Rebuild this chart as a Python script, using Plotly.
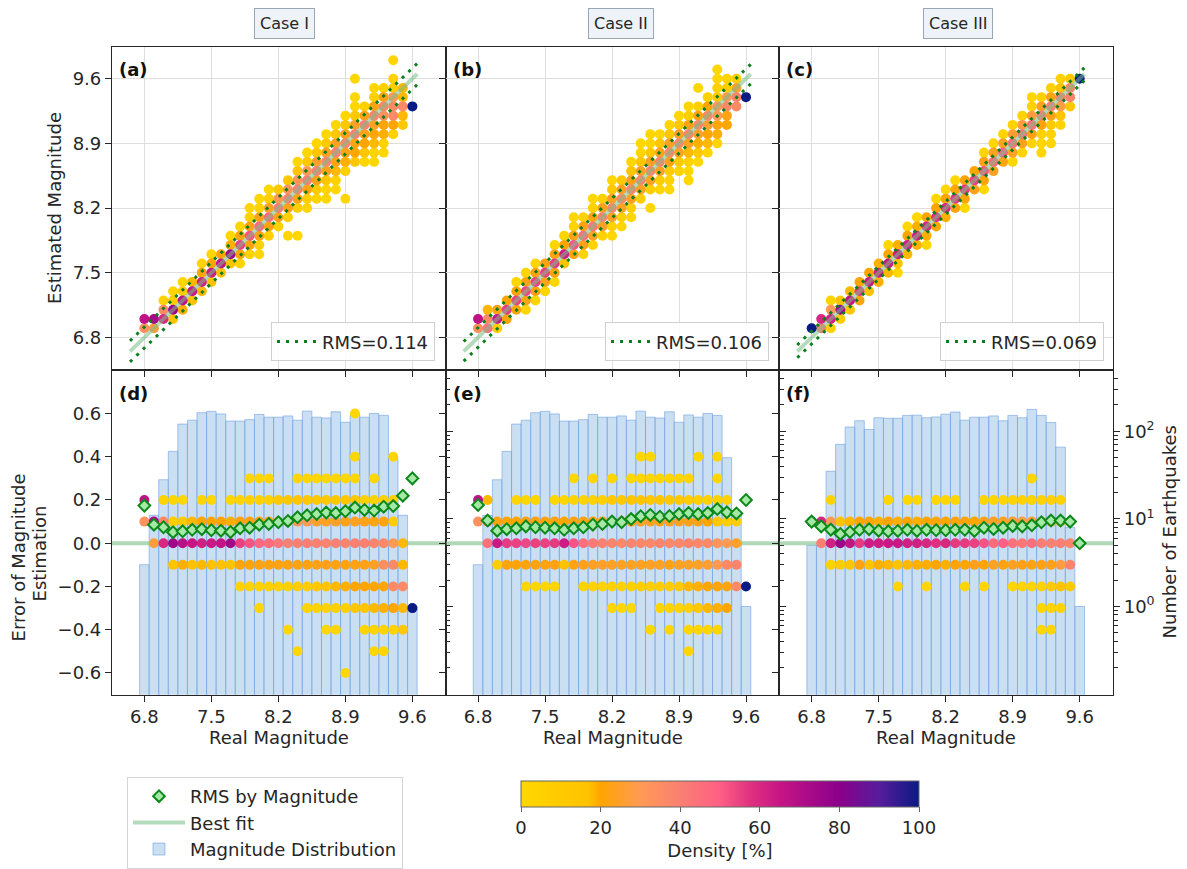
import plotly.graph_objects as go

# ---------------- data ----------------
MAGNITUDES = [6.8, 6.9, 7.0, 7.1, 7.2, 7.3, 7.4, 7.5, 7.6, 7.7, 7.8, 7.9, 8.0, 8.1, 8.2,
              8.3, 8.4, 8.5, 8.6, 8.7, 8.8, 8.9, 9.0, 9.1, 9.2, 9.3, 9.4, 9.5, 9.6]
MAG_TICKS = [6.8, 7.5, 8.2, 8.9, 9.6]
ERR_TICKS = [-0.6, -0.4, -0.2, 0.0, 0.2, 0.4, 0.6]
ERR_TICK_TEXT = ["\u22120.6", "\u22120.4", "\u22120.2", "0.0", "0.2", "0.4", "0.6"]
CASE_NAMES = ["Case I", "Case II", "Case III"]
PANEL_TOP = ["(a)", "(b)", "(c)"]
PANEL_BOT = ["(d)", "(e)", "(f)"]
RMS_TOTAL = [0.114, 0.106, 0.069]
BEST_FIT_SPAN = [6.65, 9.65]

COUNTS_CASE_I = [3, 11, 28, 59, 121, 134, 163, 169, 158, 131, 131, 136, 156, 145, 145,
                 150, 134, 170, 145, 142, 167, 127, 154, 145, 160, 152, 50, 11, 1]
COUNTS_CASE_II = [3, 11, 28, 59, 121, 134, 163, 169, 158, 131, 131, 136, 156, 145, 145,
                  150, 134, 170, 145, 142, 167, 127, 154, 145, 160, 152, 50, 11, 1]
COUNTS_CASE_III = [5, 5, 35, 71, 112, 132, 105, 143, 141, 141, 152, 153, 143, 146, 157,
                   166, 134, 145, 145, 150, 132, 152, 143, 178, 152, 126, 66, 8, 1]

RMS_MAG_CASE_I = [0.174, 0.086, 0.074, 0.051, 0.055, 0.062, 0.065, 0.060, 0.058, 0.052,
                  0.069, 0.072, 0.086, 0.089, 0.097, 0.103, 0.120, 0.129, 0.135, 0.142,
                  0.140, 0.148, 0.165, 0.154, 0.151, 0.169, 0.172, 0.220, 0.300]
RMS_MAG_CASE_II = [0.177, 0.105, 0.058, 0.065, 0.069, 0.078, 0.074, 0.072, 0.069, 0.062,
                   0.069, 0.074, 0.086, 0.089, 0.100, 0.097, 0.112, 0.125, 0.131, 0.123,
                   0.126, 0.135, 0.140, 0.135, 0.140, 0.158, 0.143, 0.138, 0.200]
RMS_MAG_CASE_III = [0.100, 0.078, 0.063, 0.043, 0.052, 0.062, 0.065, 0.058, 0.055, 0.057,
                    0.062, 0.057, 0.062, 0.060, 0.060, 0.062, 0.062, 0.057, 0.072, 0.066,
                    0.072, 0.080, 0.078, 0.083, 0.097, 0.105, 0.105, 0.100, 0.000]

# density [%] of (real magnitude, error) cells : error -> [(magnitude, density), ...]
DENSITY_CASE_I = {
    0.6: [(9.0, 1)],
    0.4: [(9.0, 1), (9.4, 2)],
    0.3: [(7.9, 1), (8.0, 1), (8.1, 1), (8.4, 1), (8.5, 1), (8.6, 1), (8.7, 1), (8.8, 1),
          (8.9, 1), (9.0, 1), (9.2, 1)],
    0.2: [(6.8, 67), (7.0, 4), (7.1, 2), (7.2, 1), (7.4, 2), (7.5, 1), (7.7, 1), (7.8, 2),
          (7.9, 3), (8.0, 4), (8.1, 6), (8.2, 12), (8.3, 13), (8.4, 14), (8.5, 12), (8.6, 13),
          (8.7, 12), (8.8, 12), (8.9, 13), (9.0, 12), (9.1, 6), (9.2, 5), (9.3, 5), (9.4, 4)],
    0.1: [(6.8, 33), (6.9, 73), (7.0, 36), (7.1, 8), (7.2, 10), (7.3, 18), (7.4, 20), (7.5, 20),
          (7.6, 20), (7.7, 19), (7.8, 22), (7.9, 22), (8.0, 23), (8.1, 24), (8.2, 30), (8.3, 32),
          (8.4, 31), (8.5, 30), (8.6, 25), (8.7, 24), (8.8, 24), (8.9, 23), (9.0, 24), (9.1, 23),
          (9.2, 22), (9.3, 22), (9.4, 8)],
    0.0: [(6.9, 27), (7.0, 60), (7.1, 75), (7.2, 68), (7.3, 65), (7.4, 62), (7.5, 64), (7.6, 66),
          (7.7, 74), (7.8, 55), (7.9, 52), (8.0, 48), (8.1, 46), (8.2, 42), (8.3, 40), (8.4, 40),
          (8.5, 41), (8.6, 40), (8.7, 39), (8.8, 40), (8.9, 38), (9.0, 40), (9.1, 40), (9.2, 38),
          (9.3, 37), (9.4, 30), (9.5, 18)],
    -0.1: [(7.1, 15), (7.2, 19), (7.3, 17), (7.4, 18), (7.5, 17), (7.6, 17), (7.7, 16), (7.8, 21),
           (7.9, 21), (8.0, 22), (8.1, 22), (8.2, 22), (8.3, 22), (8.4, 22), (8.5, 22), (8.6, 23),
           (8.7, 23), (8.8, 22), (8.9, 22), (9.0, 22), (9.1, 23), (9.2, 24), (9.3, 34), (9.4, 36),
           (9.5, 18)],
    -0.2: [(7.8, 3), (7.9, 4), (8.0, 5), (8.1, 6), (8.2, 5), (8.3, 6), (8.4, 7), (8.5, 8),
           (8.6, 12), (8.7, 14), (8.8, 18), (8.9, 19), (9.0, 20), (9.1, 20), (9.2, 20), (9.3, 21),
           (9.4, 36), (9.5, 36)],
    -0.3: [(8.0, 1), (8.5, 2), (8.6, 3), (8.7, 4), (8.8, 5), (8.9, 6), (9.0, 13), (9.1, 14),
           (9.2, 18), (9.3, 19), (9.4, 20), (9.5, 18), (9.6, 100)],
    -0.4: [(8.3, 1), (8.7, 1), (8.8, 1), (9.1, 2), (9.2, 3), (9.3, 3), (9.4, 4), (9.5, 12)],
    -0.5: [(8.4, 1), (9.2, 1), (9.3, 1)],
    -0.6: [(8.9, 1)],
}
DENSITY_CASE_II = {
    0.4: [(8.5, 1), (8.6, 1), (9.1, 1), (9.3, 1)],
    0.3: [(7.8, 1), (8.0, 1), (8.2, 1), (8.4, 1), (8.5, 2), (8.6, 2), (8.7, 2), (8.8, 2),
          (8.9, 2), (9.0, 2), (9.3, 1)],
    0.2: [(6.8, 67), (6.9, 18), (7.2, 2), (7.3, 2), (7.4, 2), (7.6, 2), (7.7, 2), (7.8, 3),
          (7.9, 4), (8.0, 5), (8.1, 6), (8.2, 12), (8.3, 13), (8.4, 14), (8.5, 14), (8.6, 13),
          (8.7, 14), (8.8, 13), (8.9, 12), (9.0, 8), (9.1, 6), (9.2, 5), (9.3, 5), (9.4, 4)],
    0.1: [(6.8, 33), (6.9, 36), (7.0, 22), (7.1, 20), (7.2, 20), (7.3, 22), (7.4, 22), (7.5, 22),
          (7.6, 21), (7.7, 20), (7.8, 22), (7.9, 22), (8.0, 22), (8.1, 23), (8.2, 24), (8.3, 24),
          (8.4, 23), (8.5, 24), (8.6, 24), (8.7, 23), (8.8, 24), (8.9, 24), (9.0, 23), (9.1, 22),
          (9.2, 20), (9.3, 12), (9.4, 8), (9.5, 8)],
    0.0: [(6.9, 45), (7.0, 64), (7.1, 56), (7.2, 55), (7.3, 54), (7.4, 55), (7.5, 55), (7.6, 56),
          (7.7, 63), (7.8, 52), (7.9, 45), (8.0, 42), (8.1, 40), (8.2, 38), (8.3, 37), (8.4, 38),
          (8.5, 37), (8.6, 37), (8.7, 38), (8.8, 37), (8.9, 37), (9.0, 38), (9.1, 37), (9.2, 36),
          (9.3, 32), (9.4, 30), (9.5, 25)],
    -0.1: [(7.0, 8), (7.1, 21), (7.2, 21), (7.3, 22), (7.4, 22), (7.5, 22), (7.6, 22), (7.7, 16),
           (7.8, 22), (7.9, 23), (8.0, 24), (8.1, 25), (8.2, 24), (8.3, 24), (8.4, 24), (8.5, 24),
           (8.6, 24), (8.7, 24), (8.8, 23), (8.9, 24), (9.0, 24), (9.1, 25), (9.2, 26), (9.3, 30),
           (9.4, 36), (9.5, 38)],
    -0.2: [(7.3, 1), (7.4, 2), (7.5, 2), (7.6, 2), (7.9, 3), (8.0, 4), (8.1, 4), (8.2, 5),
           (8.3, 5), (8.4, 6), (8.5, 7), (8.6, 7), (8.7, 8), (8.8, 9), (8.9, 10), (9.0, 18),
           (9.1, 19), (9.2, 20), (9.3, 21), (9.4, 22), (9.5, 36), (9.6, 100)],
    -0.3: [(8.2, 1), (8.3, 1), (8.4, 1), (8.7, 2), (8.8, 3), (8.9, 4), (9.0, 5), (9.1, 12),
           (9.2, 18), (9.3, 19), (9.4, 20)],
    -0.4: [(8.6, 1), (8.8, 1), (9.0, 1), (9.1, 1), (9.2, 2), (9.3, 2)],
    -0.5: [(9.0, 1)],
}
DENSITY_CASE_III = {
    0.3: [(9.1, 1)],
    0.2: [(7.0, 3), (7.6, 1), (7.8, 1), (7.9, 1), (8.1, 1), (8.2, 1), (8.3, 1), (8.6, 2),
          (8.7, 2), (8.8, 2), (8.9, 3), (9.0, 3), (9.1, 4), (9.2, 5), (9.3, 6), (9.4, 5)],
    0.1: [(6.8, 100), (6.9, 60), (7.0, 30), (7.1, 15), (7.2, 18), (7.3, 20), (7.4, 20), (7.5, 19),
          (7.6, 20), (7.7, 19), (7.8, 20), (7.9, 19), (8.0, 20), (8.1, 20), (8.2, 20), (8.3, 21),
          (8.4, 21), (8.5, 20), (8.6, 23), (8.7, 24), (8.8, 24), (8.9, 26), (9.0, 28), (9.1, 27),
          (9.2, 24), (9.3, 22), (9.4, 16), (9.5, 12)],
    0.0: [(6.9, 40), (7.0, 62), (7.1, 76), (7.2, 66), (7.3, 56), (7.4, 63), (7.5, 63), (7.6, 64),
          (7.7, 64), (7.8, 62), (7.9, 62), (8.0, 60), (8.1, 58), (8.2, 60), (8.3, 56), (8.4, 56),
          (8.5, 55), (8.6, 52), (8.7, 46), (8.8, 50), (8.9, 45), (9.0, 43), (9.1, 45), (9.2, 41),
          (9.3, 40), (9.4, 40), (9.5, 38), (9.6, 100)],
    -0.1: [(7.0, 5), (7.1, 9), (7.2, 14), (7.3, 22), (7.4, 16), (7.5, 19), (7.6, 18), (7.7, 16),
           (7.8, 18), (7.9, 19), (8.0, 19), (8.1, 20), (8.2, 19), (8.3, 21), (8.4, 20), (8.5, 23),
           (8.6, 21), (8.7, 24), (8.8, 22), (8.9, 24), (9.0, 23), (9.1, 22), (9.2, 22), (9.3, 23),
           (9.4, 28), (9.5, 38)],
    -0.2: [(7.7, 1), (8.0, 1), (8.4, 1), (8.6, 1), (8.9, 2), (9.0, 3), (9.1, 3), (9.2, 5),
           (9.3, 10), (9.4, 16), (9.5, 12)],
    -0.3: [(9.2, 2), (9.3, 3), (9.4, 4)],
    -0.4: [(9.2, 1), (9.3, 2)],
}

DENSITIES = [DENSITY_CASE_I, DENSITY_CASE_II, DENSITY_CASE_III]
COUNTS = [COUNTS_CASE_I, COUNTS_CASE_II, COUNTS_CASE_III]
RMS_BY_MAG = [RMS_MAG_CASE_I, RMS_MAG_CASE_II, RMS_MAG_CASE_III]

# ---------------- styling / geometry ----------------
W, H = 1187, 869
FONT = "DejaVu Sans"
INK = "#262626"
COLORSCALE = [[0.0, "#FFD700"], [0.17, "#FFC200"], [0.2, "#FFA500"], [0.3, "#FF9A55"],
              [0.4, "#FA8072"], [0.5, "#FF5F85"], [0.58, "#DE2F80"], [0.65, "#C71585"],
              [0.8, "#8B008B"], [0.9, "#561C9C"], [1.0, "#0A1A84"]]

PANEL_X = [(112, 445.7), (445.7, 779.3), (779.3, 1113)]
TOP_Y = (47, 372)
BOT_Y = (372, 698)
X_RANGE = [6.462, 9.948]
EST_RANGE = [6.445, 9.945]
ERR_RANGE = [-0.701, 0.800]
LOG_RANGE = [-1.008, 2.697]


def fx(p):
    return p / W


def fy(p):
    return 1 - p / H


def cells(table):
    pts = []
    for err, row in table.items():
        for m, d in row:
            pts.append((m, err, d))
    pts.sort(key=lambda t: t[2])
    return [p[0] for p in pts], [p[1] for p in pts], [p[2] for p in pts]


fig = go.Figure()
layout = dict(width=W, height=H, margin=dict(l=0, r=0, t=0, b=0),
              paper_bgcolor="white", plot_bgcolor="white",
              font=dict(family=FONT, size=18, color=INK), showlegend=True)

axis_common = dict(ticks="outside", ticklen=6, tickwidth=1.2, tickcolor=INK,
                   showline=True, linecolor=INK, linewidth=1.2, zeroline=False,
                   tickfont=dict(family=FONT, size=18, color=INK))

colorbar = dict(orientation="h", x=fx(720), xanchor="center", y=fy(785), yanchor="top",
                len=398 / W, lenmode="fraction", thickness=26, thicknessmode="pixels",
                xpad=0, ypad=0, outlinewidth=1, outlinecolor="#666",
                tickvals=[0, 20, 40, 60, 80, 100], ticks="outside", ticklen=5, tickcolor="#666",
                tickfont=dict(family=FONT, size=18, color=INK),
                title=dict(text="Density [%]", side="bottom",
                           font=dict(family=FONT, size=18, color=INK)))

legend_right = [435, 769, 1104]
minor_vals = [0.2, 0.3, 0.4, 0.5, 0.6, 0.7, 0.8, 0.9, 2, 3, 4, 5, 6, 7, 8, 9,
              20, 30, 40, 50, 60, 70, 80, 90, 200, 300, 400]

for k in range(3):
    xt, yt = f"x{k+1}", f"y{k+1}"
    xb, yb_log, yb_err = f"x{k+4}", f"y{k+4}", f"y{k+7}"
    x0, x1 = PANEL_X[k]

    mags, errs, dens = cells(DENSITIES[k])
    est = [round(m + e, 2) for m, e in zip(mags, errs)]

    # ---- top panel: estimated vs real ----
    fig.add_trace(go.Scatter(
        x=mags, y=est, xaxis=xt, yaxis=yt, mode="markers", showlegend=False,
        marker=dict(size=10, color=dens, colorscale=COLORSCALE, cmin=0, cmax=100,
                    line=dict(width=0))))
    fig.add_trace(go.Scatter(
        x=BEST_FIT_SPAN, y=BEST_FIT_SPAN, xaxis=xt, yaxis=yt, mode="lines",
        line=dict(color="rgba(120,190,135,0.55)", width=4),
        name="Best fit", showlegend=(k == 0), legend="legend", legendrank=2))
    r = RMS_TOTAL[k]
    fig.add_trace(go.Scatter(
        x=[BEST_FIT_SPAN[0], BEST_FIT_SPAN[1], None, BEST_FIT_SPAN[0], BEST_FIT_SPAN[1]],
        y=[BEST_FIT_SPAN[0] + r, BEST_FIT_SPAN[1] + r, None,
           BEST_FIT_SPAN[0] - r, BEST_FIT_SPAN[1] - r],
        xaxis=xt, yaxis=yt, mode="lines",
        line=dict(color="#0B7F1A", width=3, dash="3px,6px"),
        name=f"RMS={r:.3f}", showlegend=True, legend=f"legend{k+2}"))

    # ---- bottom panel: histogram (log) ----
    fig.add_trace(go.Bar(
        x=MAGNITUDES, y=COUNTS[k], width=0.1, xaxis=xb, yaxis=yb_log,
        marker=dict(color="rgba(160,196,232,0.55)",
                    line=dict(color="rgba(110,160,225,0.6)", width=1)),
        name="Magnitude Distribution", showlegend=(k == 0), legend="legend", legendrank=3))

    # ---- bottom panel: errors ----
    fig.add_trace(go.Scatter(
        x=X_RANGE, y=[0, 0], xaxis=xb, yaxis=yb_err, mode="lines",
        line=dict(color="rgba(120,190,135,0.6)", width=4), showlegend=False))
    mk = dict(size=10, color=dens, colorscale=COLORSCALE, cmin=0, cmax=100, line=dict(width=0))
    if k == 0:
        mk["showscale"] = True
        mk["colorbar"] = colorbar
    fig.add_trace(go.Scatter(
        x=mags, y=errs, xaxis=xb, yaxis=yb_err, mode="markers", showlegend=False, marker=mk))
    fig.add_trace(go.Scatter(
        x=MAGNITUDES, y=RMS_BY_MAG[k], xaxis=xb, yaxis=yb_err, mode="markers",
        marker=dict(symbol="diamond", size=9, color="#A6E8A6",
                    line=dict(color="#0B8A1A", width=2)),
        name="RMS by Magnitude", showlegend=(k == 0), legend="legend", legendrank=1))

    # ---- axes ----
    dom_x = [fx(x0), fx(x1)]
    layout[f"xaxis{k+1}"] = dict(axis_common, domain=dom_x, range=X_RANGE, anchor=yt,
                                 tickvals=MAG_TICKS, showticklabels=False, mirror=True,
                                 showgrid=True, gridcolor="#DEDEDE", gridwidth=1)
    layout[f"yaxis{k+1}"] = dict(axis_common, domain=[fy(TOP_Y[1]), fy(TOP_Y[0])],
                                 range=EST_RANGE, anchor=xt, tickvals=MAG_TICKS,
                                 ticktext=[f"{v:.1f}" for v in MAG_TICKS],
                                 showticklabels=(k == 0), mirror=True,
                                 showgrid=True, gridcolor="#DEDEDE", gridwidth=1)
    layout[f"xaxis{k+4}"] = dict(axis_common, domain=dom_x, range=X_RANGE, anchor=yb_log,
                                 tickvals=MAG_TICKS, ticktext=[f"{v:.1f}" for v in MAG_TICKS],
                                 showticklabels=True, mirror=True, showgrid=False)
    layout[f"yaxis{k+4}"] = dict(axis_common, type="log", domain=[fy(BOT_Y[1]), fy(BOT_Y[0])],
                                 range=LOG_RANGE, anchor=xb, side="right",
                                 tickvals=[1, 10, 100],
                                 ticktext=["10<sup>0</sup>", "10<sup>1</sup>", "10<sup>2</sup>"],
                                 showticklabels=(k == 2), showgrid=False,
                                 minor=dict(tickmode="array", tickvals=minor_vals,
                                            ticks="outside", ticklen=3.5, tickcolor=INK,
                                            tickwidth=1, showgrid=False))
    layout[f"yaxis{k+7}"] = dict(axis_common, range=ERR_RANGE, anchor=xb, overlaying=yb_log,
                                 side="left", tickvals=ERR_TICKS, ticktext=ERR_TICK_TEXT,
                                 showticklabels=(k == 0), showgrid=False)

    layout[f"legend{k+2}"] = dict(x=fx(legend_right[k]), y=fy(363), xanchor="right",
                                  yanchor="bottom", bgcolor="rgba(255,255,255,0.85)",
                                  bordercolor="#CFCFCF", borderwidth=1, itemwidth=40,
                                  font=dict(family=FONT, size=18, color=INK))

layout["legend"] = dict(x=fx(127), y=fy(781), xanchor="left", yanchor="top", bgcolor="white",
                        bordercolor="#D5D5D5", borderwidth=1, itemwidth=52,
                        font=dict(family=FONT, size=18, color=INK), traceorder="normal")

# ---------------- annotations ----------------
ann = []
case_centers = [284, 621, 958]
for k in range(3):
    ann.append(dict(text=CASE_NAMES[k], x=fx(case_centers[k]), y=fy(24), xref="paper",
                    yref="paper", showarrow=False, xanchor="center", yanchor="middle",
                    font=dict(family=FONT, size=16, color=INK), bgcolor="#EEF3F9",
                    bordercolor="#9AA6B4", borderwidth=1, borderpad=5))
    x0 = PANEL_X[k][0]
    ann.append(dict(text=f"<b>{PANEL_TOP[k]}</b>", x=fx(x0 + 5), y=fy(70), xref="paper",
                    yref="paper", showarrow=False, xanchor="left", yanchor="middle",
                    font=dict(family=FONT, size=18, color="#111")))
    ann.append(dict(text=f"<b>{PANEL_BOT[k]}</b>", x=fx(x0 + 5), y=fy(395), xref="paper",
                    yref="paper", showarrow=False, xanchor="left", yanchor="middle",
                    font=dict(family=FONT, size=18, color="#111")))
    cx = (PANEL_X[k][0] + PANEL_X[k][1]) / 2
    ann.append(dict(text="Real Magnitude", x=fx(cx), y=fy(741), xref="paper", yref="paper",
                    showarrow=False, xanchor="center", yanchor="middle",
                    font=dict(family=FONT, size=18, color=INK)))

ann.append(dict(text="Estimated Magnitude", x=fx(54), y=fy(209), xref="paper", yref="paper",
                showarrow=False, textangle=-90, xanchor="center", yanchor="middle",
                font=dict(family=FONT, size=18, color=INK)))
ann.append(dict(text="Error of Magnitude", x=fx(18), y=fy(560), xref="paper", yref="paper",
                showarrow=False, textangle=-90, xanchor="center", yanchor="middle",
                font=dict(family=FONT, size=18, color=INK)))
ann.append(dict(text="Estimation", x=fx(39), y=fy(556), xref="paper", yref="paper",
                showarrow=False, textangle=-90, xanchor="center", yanchor="middle",
                font=dict(family=FONT, size=18, color=INK)))
ann.append(dict(text="Number of Earthquakes", x=fx(1170), y=fy(535), xref="paper",
                yref="paper", showarrow=False, textangle=-90, xanchor="center",
                yanchor="middle", font=dict(family=FONT, size=18, color=INK)))
layout["annotations"] = ann

fig.update_layout(**layout)
fig.write_html("out.html")
